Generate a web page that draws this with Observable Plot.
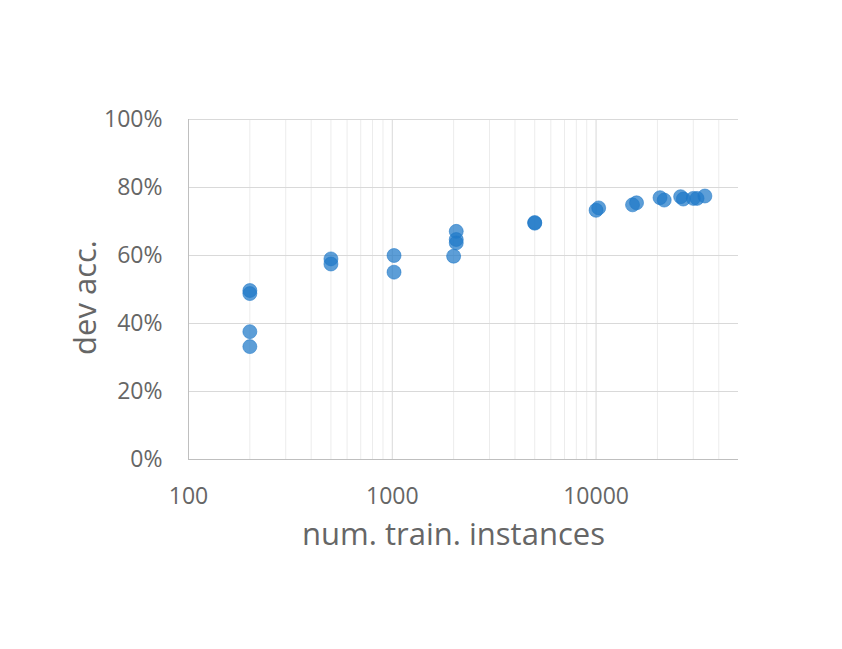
<!DOCTYPE html>
<html>
<head>
<meta charset="utf-8">
<script src="https://cdn.jsdelivr.net/npm/d3@7"></script>
<script src="https://cdn.jsdelivr.net/npm/@observablehq/plot@0.6"></script>
<style>
  html, body { margin: 0; padding: 0; background: #fff; }
  #chart { width: 842px; height: 649px; }
</style>
</head>
<body>
<div id="chart"></div>
<script>
const trainInstances = [200, 200, 200, 200, 500, 500, 1020, 1020, 2000, 2060, 2060, 2060, 5000, 5000, 10000, 10300, 15100, 15800, 20600, 21600, 26000, 26800, 30000, 31300, 34200];
const devAcc = [0.497, 0.488, 0.376, 0.332, 0.590, 0.575, 0.600, 0.551, 0.598, 0.671, 0.647, 0.637, 0.695, 0.697, 0.733, 0.740, 0.749, 0.755, 0.770, 0.763, 0.773, 0.766, 0.768, 0.768, 0.775];

const xTicks = [100, 1000, 10000];
const xMinorTicks = [200, 300, 400, 500, 600, 700, 800, 900, 2000, 3000, 4000, 5000, 6000, 7000, 8000, 9000, 20000, 30000, 40000];
const yTicks = [0, 0.2, 0.4, 0.6, 0.8, 1.0];
const xTitle = "num. train. instances";
const yTitle = "dev acc.";

const points = trainInstances.map((x, i) => ({x, y: devAcc[i]}));
const textColor = "#666666";

const chart = Plot.plot({
  width: 842,
  height: 649,
  marginLeft: 188,
  marginRight: 104,
  marginTop: 119,
  marginBottom: 190,
  style: {fontFamily: "'Open Sans', sans-serif", background: "#fff"},
  x: {type: "log", domain: [100, 50000]},
  y: {domain: [0, 1]},
  marks: [
    Plot.ruleX(xMinorTicks, {stroke: "#ececec", strokeWidth: 1}),
    Plot.ruleX(xTicks.slice(1), {stroke: "#d9d9d9", strokeWidth: 1}),
    Plot.gridY(yTicks, {stroke: "#d9d9d9", strokeOpacity: 1, strokeWidth: 1}),
    Plot.ruleX([100], {stroke: "#bfbfbf", strokeWidth: 1}),
    Plot.ruleY([0], {stroke: "#bfbfbf", strokeWidth: 1}),
    Plot.axisY(yTicks, {tickSize: 0, tickPadding: 26, fontSize: 23, fill: textColor, tickFormat: d => Math.round(d * 100) + "%", label: null}),
    Plot.axisX(xTicks, {tickSize: 0, tickPadding: 28, fontSize: 23, fill: textColor, tickFormat: d => String(d), label: null}),
    Plot.text([xTitle], {frameAnchor: "bottom", textAnchor: "middle", lineAnchor: "middle", dx: -10, dy: 76, fontSize: 31, fill: textColor, text: d => d}),
    Plot.text([yTitle], {frameAnchor: "left", textAnchor: "middle", lineAnchor: "middle", dx: -102, dy: 8, rotate: -90, fontSize: 31, fill: textColor, text: d => d}),
    Plot.dot(points, {x: "x", y: "y", r: 7, fill: "#1f78c8", fillOpacity: 0.72, stroke: "#1f78c8", strokeOpacity: 0.55, strokeWidth: 1})
  ]
});
document.getElementById("chart").appendChild(chart);
</script>
</body>
</html>
